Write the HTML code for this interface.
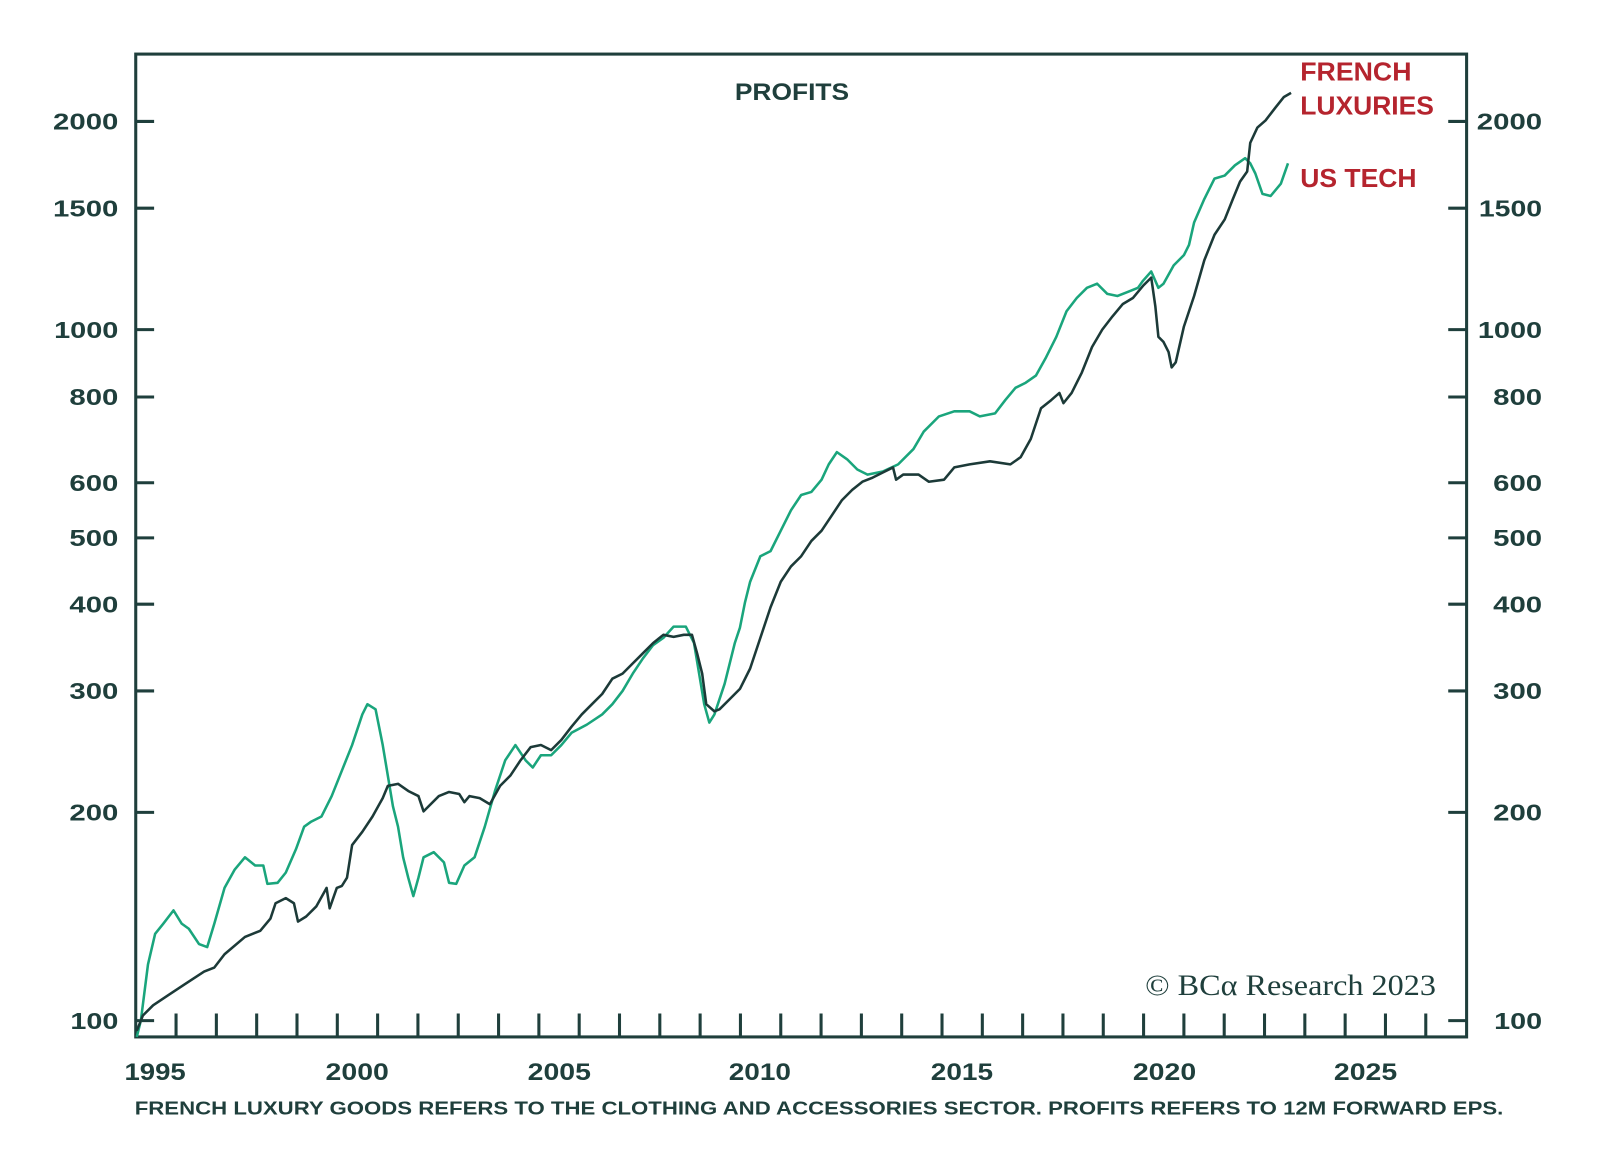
<!DOCTYPE html>
<html><head><meta charset="utf-8"><style>
body{margin:0;background:#fff;}
svg text{font-family:"Liberation Sans",sans-serif;font-weight:bold;}
</style></head><body>
<svg width="1600" height="1160" viewBox="0 0 1600 1160" xmlns="http://www.w3.org/2000/svg">
<rect x="0" y="0" width="1600" height="1160" fill="#fff"/>
<g transform="scale(1.0206)">
<rect x="133" y="53" width="1304" height="963" fill="none" stroke="#1f3f3c" stroke-width="3"/>
<g stroke="#1f3f3c" stroke-width="3">
<line x1="133" y1="1000" x2="151" y2="1000"/><line x1="1419" y1="1000" x2="1437" y2="1000"/>
<line x1="133" y1="796" x2="151" y2="796"/><line x1="1419" y1="796" x2="1437" y2="796"/>
<line x1="133" y1="677" x2="151" y2="677"/><line x1="1419" y1="677" x2="1437" y2="677"/>
<line x1="133" y1="592" x2="151" y2="592"/><line x1="1419" y1="592" x2="1437" y2="592"/>
<line x1="133" y1="527" x2="151" y2="527"/><line x1="1419" y1="527" x2="1437" y2="527"/>
<line x1="133" y1="473" x2="151" y2="473"/><line x1="1419" y1="473" x2="1437" y2="473"/>
<line x1="133" y1="389" x2="151" y2="389"/><line x1="1419" y1="389" x2="1437" y2="389"/>
<line x1="133" y1="323" x2="151" y2="323"/><line x1="1419" y1="323" x2="1437" y2="323"/>
<line x1="133" y1="204" x2="151" y2="204"/><line x1="1419" y1="204" x2="1437" y2="204"/>
<line x1="133" y1="119" x2="151" y2="119"/><line x1="1419" y1="119" x2="1437" y2="119"/>
</g>
<path stroke="#1f3f3c" stroke-width="3" d="M172.5 993V1016M212 993V1016M251.5 993V1016M291 993V1016M330.5 993V1016M370 993V1016M409.5 993V1016M449 993V1016M488.5 993V1016M528 993V1016M567.5 993V1016M607 993V1016M646.5 993V1016M686 993V1016M725.5 993V1016M765 993V1016M804.5 993V1016M844 993V1016M883.5 993V1016M923 993V1016M962.5 993V1016M1002 993V1016M1041.5 993V1016M1081 993V1016M1120.5 993V1016M1160 993V1016M1199.5 993V1016M1239 993V1016M1278.5 993V1016M1318 993V1016M1357.5 993V1016M1397 993V1016"/>
<g fill="#1f3f3c" font-size="23" text-anchor="end">
<text x="116" y="1008" textLength="47" lengthAdjust="spacingAndGlyphs">100</text><text x="116" y="804" textLength="48" lengthAdjust="spacingAndGlyphs">200</text><text x="116" y="685" textLength="48" lengthAdjust="spacingAndGlyphs">300</text><text x="116" y="600" textLength="48" lengthAdjust="spacingAndGlyphs">400</text><text x="116" y="535" textLength="48" lengthAdjust="spacingAndGlyphs">500</text><text x="116" y="481" textLength="48" lengthAdjust="spacingAndGlyphs">600</text><text x="116" y="397" textLength="48" lengthAdjust="spacingAndGlyphs">800</text><text x="116" y="331" textLength="63" lengthAdjust="spacingAndGlyphs">1000</text><text x="116" y="212" textLength="64" lengthAdjust="spacingAndGlyphs">1500</text><text x="116" y="127" textLength="64" lengthAdjust="spacingAndGlyphs">2000</text>
<text x="1511" y="1008" textLength="47" lengthAdjust="spacingAndGlyphs">100</text><text x="1511" y="804" textLength="48" lengthAdjust="spacingAndGlyphs">200</text><text x="1511" y="685" textLength="48" lengthAdjust="spacingAndGlyphs">300</text><text x="1511" y="600" textLength="48" lengthAdjust="spacingAndGlyphs">400</text><text x="1511" y="535" textLength="48" lengthAdjust="spacingAndGlyphs">500</text><text x="1511" y="481" textLength="48" lengthAdjust="spacingAndGlyphs">600</text><text x="1511" y="397" textLength="48" lengthAdjust="spacingAndGlyphs">800</text><text x="1511" y="331" textLength="63" lengthAdjust="spacingAndGlyphs">1000</text><text x="1511" y="212" textLength="62" lengthAdjust="spacingAndGlyphs">1500</text><text x="1511" y="127" textLength="64" lengthAdjust="spacingAndGlyphs">2000</text>
</g>
<g fill="#1f3f3c" font-size="24">
<text x="122" y="1058" textLength="60" lengthAdjust="spacingAndGlyphs">1995</text><text x="319" y="1058" textLength="62" lengthAdjust="spacingAndGlyphs">2000</text><text x="517" y="1058" textLength="62" lengthAdjust="spacingAndGlyphs">2005</text><text x="714" y="1058" textLength="61" lengthAdjust="spacingAndGlyphs">2010</text><text x="912" y="1058" textLength="61" lengthAdjust="spacingAndGlyphs">2015</text><text x="1110" y="1058" textLength="62" lengthAdjust="spacingAndGlyphs">2020</text><text x="1307" y="1058" textLength="62" lengthAdjust="spacingAndGlyphs">2025</text>
</g>
<text x="720" y="98" fill="#1f3f3c" font-size="24" textLength="112" lengthAdjust="spacingAndGlyphs">PROFITS</text>
<text x="1274" y="79" fill="#b5242e" font-size="25" textLength="109" lengthAdjust="spacingAndGlyphs">FRENCH</text>
<text x="1274" y="112" fill="#b5242e" font-size="25" textLength="131" lengthAdjust="spacingAndGlyphs">LUXURIES</text>
<text x="1274" y="183" fill="#b5242e" font-size="25" textLength="114" lengthAdjust="spacingAndGlyphs">US TECH</text>
<text x="1122" y="975" fill="#1f3f3c" font-size="29" textLength="285" lengthAdjust="spacingAndGlyphs" style="font-family:'Liberation Serif',serif;font-weight:normal">© BCα Research 2023</text>
<text x="132" y="1092" fill="#1f3f3c" font-size="18" textLength="1341" lengthAdjust="spacingAndGlyphs">FRENCH LUXURY GOODS REFERS TO THE CLOTHING AND ACCESSORIES SECTOR. PROFITS REFERS TO 12M FORWARD EPS.</text>
<polyline fill="none" stroke="#1aa57c" stroke-width="2.5" stroke-linejoin="round" points="134,1016 138,1000 145,945 152,915 160,905 170,892 178,905 185,910 195,925 203,928 210,905 220,870 230,852 240,840 250,848 258,848 262,866 272,865 280,855 290,832 298,810 305,805 315,800 325,780 335,755 345,730 355,700 360,690 368,695 375,730 380,760 385,790 390,810 395,840 400,860 405,878 410,860 415,840 425,835 435,845 440,865 447,866 455,848 465,840 475,810 485,775 495,745 505,730 515,745 522,752 530,740 540,740 550,730 560,718 575,710 590,700 600,690 610,677 620,660 630,645 640,632 650,625 660,614 672,614 680,630 685,660 690,690 695,708 700,700 710,670 720,630 725,615 730,590 735,570 745,545 755,540 765,520 775,500 785,485 795,482 805,470 812,455 820,443 830,450 840,460 850,465 865,462 880,455 895,440 905,423 920,408 935,403 950,403 960,408 975,405 985,392 995,380 1005,375 1015,368 1025,350 1035,330 1045,305 1055,292 1065,282 1075,278 1085,288 1095,290 1105,286 1115,282 1120,275 1128,266 1135,282 1140,278 1150,260 1160,250 1165,240 1170,218 1180,195 1190,175 1200,172 1210,162 1220,155 1225,160 1230,170 1237,190 1245,192 1255,180 1262,160"/>
<polyline fill="none" stroke="#1c3a38" stroke-width="2.5" stroke-linejoin="round" points="134,1010 140,995 150,985 165,975 180,965 200,952 210,948 220,935 240,918 255,912 265,900 270,885 280,880 288,885 292,903 300,898 310,888 320,870 323,890 330,870 335,868 340,860 345,828 355,815 365,800 375,782 380,770 390,768 400,775 410,780 415,795 420,790 430,780 440,776 450,778 455,786 460,780 470,782 480,788 490,770 500,760 510,745 520,732 530,730 540,735 550,725 560,712 570,700 580,690 590,680 600,665 610,660 620,650 630,640 640,630 650,622 660,624 670,622 678,622 683,640 688,660 692,690 700,697 705,695 715,685 725,675 735,655 745,625 755,595 765,570 775,555 785,545 795,530 805,520 815,505 825,490 835,480 845,472 855,468 865,463 875,458 878,470 885,465 900,465 910,472 925,470 935,458 950,455 970,452 990,455 1000,448 1010,430 1020,400 1030,392 1038,385 1042,395 1050,385 1060,365 1070,340 1080,323 1090,310 1100,298 1110,292 1120,280 1128,272 1132,300 1135,330 1140,335 1145,345 1148,360 1152,355 1160,320 1170,290 1180,255 1190,230 1200,215 1208,195 1215,178 1222,168 1225,140 1232,125 1240,118 1250,105 1258,95 1265,91"/>
</g>
</svg>
</body></html>
